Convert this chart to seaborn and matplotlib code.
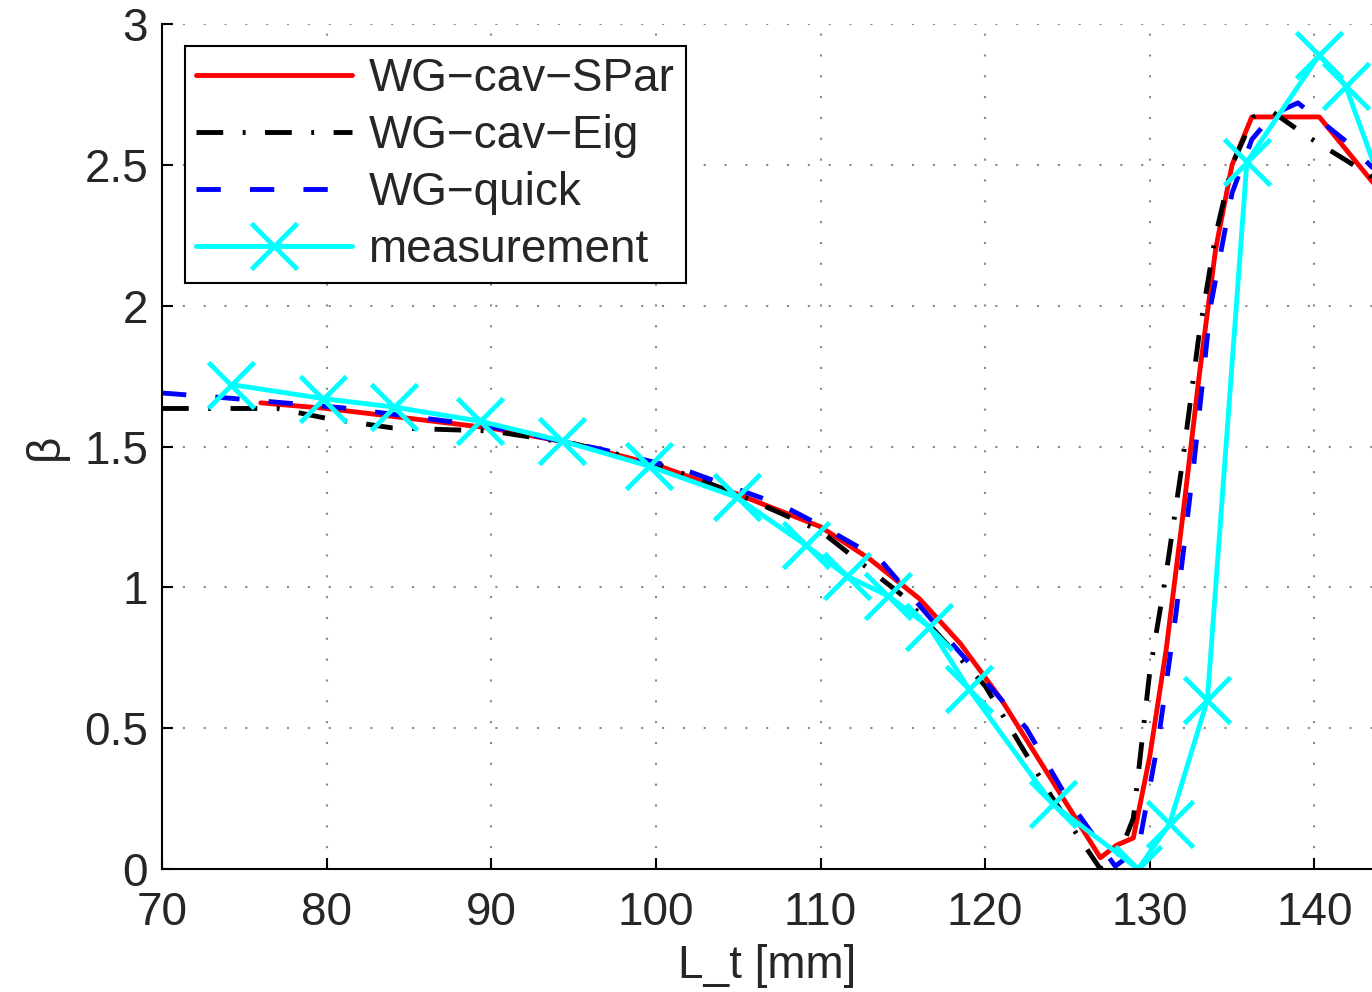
import numpy as np
import pandas as pd
import matplotlib
matplotlib.use("Agg")
import matplotlib.pyplot as plt
import seaborn as sns

# WG-cav-SPar
spar_x = [76, 80, 85, 90, 95, 100, 105, 110, 113, 116, 118.5, 121, 124, 127, 128, 129,
          130, 131, 132, 133, 134, 135, 136.2, 140.3, 143.8, 146]
spar_y = [1.655, 1.635, 1.60, 1.565, 1.51, 1.435, 1.33, 1.215, 1.10, 0.96, 0.80, 0.60, 0.32, 0.04, 0.085, 0.11,
          0.40, 0.78, 1.25, 1.75, 2.20, 2.50, 2.67, 2.67, 2.42, 2.25]

# WG-cav-Eig
eig_x = [70, 77, 80, 84, 90, 95, 100, 105, 110, 115, 120, 124, 127, 128, 129,
         130, 131, 132, 133, 134, 135, 136.3, 137.4, 139.6, 143.2, 146]
eig_y = [1.635, 1.635, 1.60, 1.566, 1.555, 1.51, 1.44, 1.33, 1.20, 0.97, 0.65, 0.26, 0.0, 0.03, 0.18,
         0.70, 1.05, 1.45, 1.90, 2.25, 2.50, 2.67, 2.69, 2.60, 2.47, 2.33]

# WG-quick
quick_x = [70, 74, 81, 90, 96.7, 101.6, 107.7, 110, 113.6, 118, 122.5, 125, 127.9, 129.3,
           130.5, 131.6, 132.7, 133.7, 135, 136.2, 137.5, 139, 142, 143.7, 146]
quick_y = [1.69, 1.672, 1.637, 1.57, 1.49, 1.42, 1.29, 1.22, 1.10, 0.80, 0.50, 0.25, 0.01, 0.07,
           0.45, 0.91, 1.45, 2.00, 2.40, 2.59, 2.68, 2.72, 2.58, 2.48, 2.38]

# measurement
meas_x = [74.2, 79.8, 84.1, 89.3, 94.3, 99.6, 104.9, 109.1, 111.6, 114.1, 116.6, 119.0,
          124.1, 129.3, 131.2, 133.5, 135.9, 140.3, 141.9, 145.5]
meas_y = [1.72, 1.67, 1.64, 1.59, 1.52, 1.43, 1.32, 1.15, 1.04, 0.97, 0.86, 0.64,
          0.23, 0.00, 0.16, 0.60, 2.51, 2.89, 2.78, 2.20]

sns.set_style("ticks")
plt.rcParams["font.family"] = ["Liberation Sans", "DejaVu Sans"]
plt.rcParams["xtick.direction"] = "in"
plt.rcParams["ytick.direction"] = "in"

fs = 33
fig = plt.figure(figsize=(13.72, 9.92), dpi=100)
ax = fig.add_axes([162 / 1372, 123 / 992, 1 - 162 / 1372, 845 / 992])

lw = 3.5
cyan = "#00ffff"
sns.lineplot(x=spar_x, y=spar_y, ax=ax, color="#ff0000", lw=lw, sort=False,
             label="WG\u2212cav\u2212SPar")
sns.lineplot(x=eig_x, y=eig_y, ax=ax, color="black", lw=lw, sort=False,
             linestyle=(0, (5.5, 4, 0.6, 4)), label="WG\u2212cav\u2212Eig")
sns.lineplot(x=quick_x, y=quick_y, ax=ax, color="#0000ff", lw=lw, sort=False,
             linestyle=(0, (5, 6)), label="WG\u2212quick")
sns.lineplot(x=meas_x, y=meas_y, ax=ax, color=cyan, lw=lw, sort=False,
             marker="x", markersize=33, markeredgewidth=lw, markeredgecolor=cyan,
             label="measurement")

ax.set_xlim(70, 143.5)
ax.set_ylim(0, 3)
ax.set_xticks(np.arange(70, 141, 10))
ax.set_yticks(np.arange(0, 3.01, 0.5))
ax.set_yticklabels(["0", "0.5", "1", "1.5", "2", "2.5", "3"])
ax.tick_params(axis="both", labelsize=fs, length=8, width=1.5, color="black")
ax.tick_params(axis="x", pad=16)
ax.tick_params(axis="y", pad=10)
ax.grid(True, color="#888888", linestyle=(0, (1, 9)), lw=1.5)
ax.set_axisbelow(True)
for s in ["top", "right"]:
    ax.spines[s].set_visible(False)
for s in ["left", "bottom"]:
    ax.spines[s].set_color("black")
    ax.spines[s].set_linewidth(1.5)

ax.set_xlabel("L_t [mm]", fontsize=fs, labelpad=6)
ax.set_ylabel("\u03b2", fontsize=fs, labelpad=12)

leg = ax.legend(loc="upper left", bbox_to_anchor=(0.019, 0.974), fontsize=fs,
                frameon=True, fancybox=False, edgecolor="black", handlelength=3.4,
                handletextpad=0.35, labelspacing=0.28, borderpad=0.25, borderaxespad=0)
leg.get_frame().set_linewidth(1.5)
leg.get_frame().set_alpha(1)

fig.savefig("out.png", dpi=100)
